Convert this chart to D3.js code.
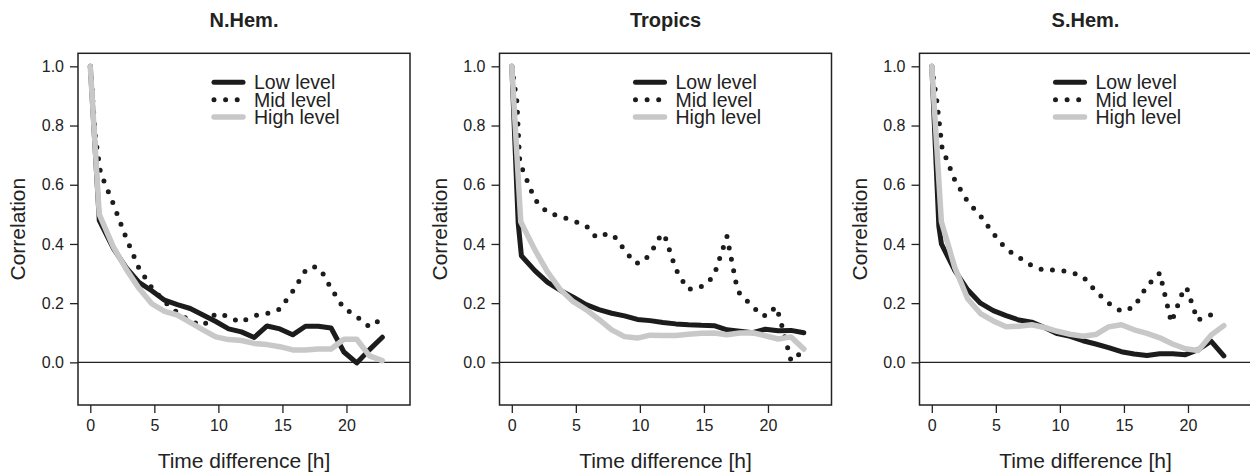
<!DOCTYPE html>
<html>
<head>
<meta charset="utf-8">
<script src="https://cdn.jsdelivr.net/npm/d3@7"></script>
<style>
  html, body { margin: 0; padding: 0; background: #fff; }
  svg { display: block; font-family: "Liberation Sans", Arial, Helvetica, sans-serif; }
</style>
</head>
<body>
<svg id="chart" width="1250" height="474"></svg>
<script>
// ---------- DATA ----------
const panelTitles = ["N.Hem.", "Tropics", "S.Hem."];
const seriesNames = ["Low level", "Mid level", "High level"];
const xTicks = [0, 5, 10, 15, 20];
const yTicks = [0.0, 0.2, 0.4, 0.6, 0.8, 1.0];
const xLabel = "Time difference [h]";
const yLabel = "Correlation";

// [time difference (h), correlation]
const nhLow = [[0,1],[0.7,0.48],[1.8,0.385],[2.8,0.32],[3.8,0.27],[4.8,0.242],[5.8,0.21],[6.8,0.195],[7.8,0.182],[8.8,0.16],[9.8,0.138],[10.8,0.113],[11.8,0.103],[12.8,0.084],[13.8,0.123],[14.8,0.113],[15.8,0.093],[16.8,0.122],[17.8,0.122],[18.8,0.116],[19.8,0.035],[20.8,-0.002],[21.8,0.043],[22.8,0.085]];
const nhMid = [[0,1],[0.4,0.76],[0.8,0.64],[1.8,0.535],[2.8,0.42],[3.8,0.318],[4.8,0.252],[5.8,0.205],[6.8,0.168],[7.8,0.14],[8.8,0.124],[9.8,0.165],[10.8,0.155],[11.7,0.135],[12.5,0.152],[13.3,0.164],[14.0,0.166],[14.8,0.18],[15.8,0.24],[16.8,0.31],[17.4,0.325],[18.0,0.312],[18.8,0.25],[19.8,0.182],[20.6,0.162],[21.8,0.12],[22.6,0.143]];
const nhHigh = [[0,1],[0.7,0.5],[1.8,0.39],[2.8,0.315],[3.8,0.25],[4.8,0.198],[5.8,0.172],[6.8,0.16],[7.8,0.135],[8.8,0.11],[9.8,0.086],[10.8,0.077],[11.8,0.074],[12.8,0.064],[13.8,0.06],[14.8,0.053],[15.8,0.042],[16.8,0.042],[17.8,0.045],[18.8,0.045],[19.8,0.078],[20.8,0.078],[21.8,0.022],[22.8,0.006]];

const trLow = [[0,1],[0.5,0.47],[0.75,0.36],[1.8,0.31],[2.8,0.27],[3.8,0.243],[4.8,0.22],[5.8,0.195],[6.8,0.178],[7.8,0.166],[8.8,0.157],[9.8,0.145],[10.8,0.141],[11.8,0.135],[12.8,0.13],[13.8,0.127],[14.8,0.125],[15.8,0.124],[16.8,0.11],[17.8,0.105],[18.8,0.1],[19.8,0.112],[20.8,0.107],[21.8,0.108],[22.8,0.1]];
const trMid = [[0,1],[0.4,0.88],[0.6,0.69],[0.8,0.655],[1.8,0.55],[2.8,0.505],[3.8,0.493],[4.8,0.478],[5.8,0.462],[6.6,0.422],[7.3,0.432],[7.9,0.432],[8.8,0.38],[9.6,0.336],[10.1,0.336],[10.8,0.365],[11.7,0.435],[12.0,0.42],[12.8,0.315],[13.7,0.248],[14.4,0.248],[15.2,0.265],[15.8,0.295],[16.8,0.425],[17.5,0.27],[17.8,0.23],[18.8,0.19],[19.5,0.158],[20.0,0.158],[20.6,0.188],[20.9,0.155],[21.8,0.005],[22.8,0.04]];
const trHigh = [[0,1],[0.7,0.475],[1.8,0.38],[2.8,0.305],[3.8,0.245],[4.8,0.205],[5.8,0.178],[6.8,0.145],[7.8,0.11],[8.8,0.087],[9.8,0.082],[10.8,0.092],[11.8,0.091],[12.8,0.091],[13.8,0.095],[14.8,0.098],[15.8,0.099],[16.8,0.093],[17.8,0.099],[18.8,0.1],[19.8,0.09],[20.8,0.079],[21.8,0.086],[22.8,0.045]];

const shLow = [[0,1],[0.55,0.46],[0.75,0.4],[1.8,0.31],[2.8,0.245],[3.8,0.2],[4.8,0.175],[5.8,0.158],[6.8,0.143],[7.8,0.136],[8.8,0.118],[9.8,0.097],[10.8,0.088],[11.8,0.073],[12.8,0.062],[13.8,0.05],[14.8,0.036],[15.8,0.028],[16.8,0.023],[17.8,0.029],[18.8,0.029],[19.8,0.026],[20.8,0.043],[21.8,0.072],[22.8,0.022]];
const shMid = [[0,1],[0.4,0.88],[0.8,0.725],[1.8,0.615],[2.8,0.543],[3.8,0.495],[4.8,0.435],[5.8,0.383],[6.8,0.355],[7.8,0.327],[8.8,0.31],[9.8,0.313],[10.8,0.305],[11.8,0.29],[12.8,0.24],[13.8,0.2],[14.8,0.172],[15.8,0.187],[16.8,0.258],[17.8,0.302],[18.7,0.135],[19.7,0.25],[19.9,0.252],[20.75,0.142],[21.5,0.158],[21.8,0.16]];
const shHigh = [[0,1],[0.75,0.475],[1.8,0.32],[2.8,0.215],[3.8,0.165],[4.8,0.14],[5.8,0.12],[6.8,0.122],[7.8,0.127],[8.8,0.118],[9.8,0.105],[10.8,0.095],[11.8,0.088],[12.8,0.094],[13.8,0.12],[14.8,0.127],[15.8,0.11],[16.8,0.098],[17.8,0.083],[18.8,0.062],[19.8,0.046],[20.8,0.04],[21.8,0.092],[22.8,0.124]];

const panelData = [[nhLow, nhMid, nhHigh], [trLow, trMid, trHigh], [shLow, shMid, shHigh]];

// ---------- STYLE ----------
const styles = [
  { color: "#1c1c1c", width: 5, dash: null },
  { color: "#1c1c1c", width: 5, dash: "0 11.6" },
  { color: "#c8c8c8", width: 5.5, dash: null }
];
const panelLefts = [78, 499.5, 919.5];
const plotW = 332, plotTop = 53.3, plotBottom = 405;

const svg = d3.select("#chart");

panelTitles.forEach((title, pi) => {
  const left = panelLefts[pi];
  const x = d3.scaleLinear().domain([-0.96, 24.96]).range([left, left + plotW]);
  const y = d3.scaleLinear().domain([-0.144, 1.044]).range([plotBottom, plotTop]);
  const g = svg.append("g");
  const clipId = "clip" + pi;
  svg.append("clipPath").attr("id", clipId).append("rect")
    .attr("x", left).attr("y", plotTop).attr("width", plotW).attr("height", plotBottom - plotTop);

  // zero line
  g.append("line").attr("x1", left).attr("x2", left + plotW)
    .attr("y1", y(0)).attr("y2", y(0)).attr("stroke", "#222").attr("stroke-width", 1.3);

  // series
  const line = d3.line().x(d => x(d[0])).y(d => y(d[1]));
  panelData[pi].forEach((s, si) => {
    const st = styles[si];
    const p = g.append("path").datum(s).attr("d", line)
      .attr("fill", "none").attr("stroke", st.color).attr("stroke-width", st.width)
      .attr("stroke-linejoin", "round").attr("stroke-linecap", "round")
      .attr("clip-path", `url(#${clipId})`);
    if (st.dash) p.attr("stroke-dasharray", st.dash);
  });

  // box
  g.append("rect").attr("x", left).attr("y", plotTop).attr("width", plotW).attr("height", plotBottom - plotTop)
    .attr("fill", "none").attr("stroke", "#222").attr("stroke-width", 1.5);

  // axes
  const xAxis = d3.axisBottom(x).tickValues(xTicks).tickFormat(d3.format("d")).tickSize(8).tickPadding(7).tickSizeOuter(0);
  const ax = g.append("g").attr("transform", `translate(0,${plotBottom})`).call(xAxis);
  ax.select(".domain").remove();
  ax.selectAll("line").attr("stroke", "#222").attr("stroke-width", 1.3);
  ax.selectAll("text").attr("font-size", 16).attr("fill", "#222")
    .attr("font-family", "Liberation Sans, Arial, sans-serif");

  const yAxis = d3.axisLeft(y).tickValues(yTicks).tickFormat(d3.format(".1f")).tickSize(8).tickPadding(6).tickSizeOuter(0);
  const ay = g.append("g").attr("transform", `translate(${left},0)`).call(yAxis);
  ay.select(".domain").remove();
  ay.selectAll("line").attr("stroke", "#222").attr("stroke-width", 1.3);
  ay.selectAll("text").attr("font-size", 16).attr("fill", "#222")
    .attr("font-family", "Liberation Sans, Arial, sans-serif");

  // title
  g.append("text").attr("x", left + plotW / 2).attr("y", 27).attr("text-anchor", "middle")
    .attr("font-size", 20).attr("font-weight", "bold").attr("fill", "#222").text(title);

  // axis titles
  g.append("text").attr("x", left + plotW / 2).attr("y", 468).attr("text-anchor", "middle")
    .attr("font-size", 21).attr("fill", "#222").text(xLabel);
  g.append("text").attr("transform", `translate(${left - 53},${(plotTop + plotBottom) / 2}) rotate(-90)`)
    .attr("text-anchor", "middle").attr("font-size", 21).attr("fill", "#222").text(yLabel);

  // legend
  const legY = [0.946, 0.887, 0.829];
  seriesNames.forEach((name, si) => {
    const st = styles[si];
    const ly = y(legY[si]);
    const l = g.append("line").attr("x1", left + 136).attr("x2", left + 165)
      .attr("y1", ly).attr("y2", ly).attr("stroke", st.color).attr("stroke-width", st.width)
      .attr("stroke-linecap", "round");
    if (st.dash) l.attr("stroke-dasharray", st.dash);
    g.append("text").attr("x", left + 176).attr("y", ly + 7)
      .attr("font-size", 19.5).attr("fill", "#222").text(name);
  });
});
</script>
</body>
</html>
